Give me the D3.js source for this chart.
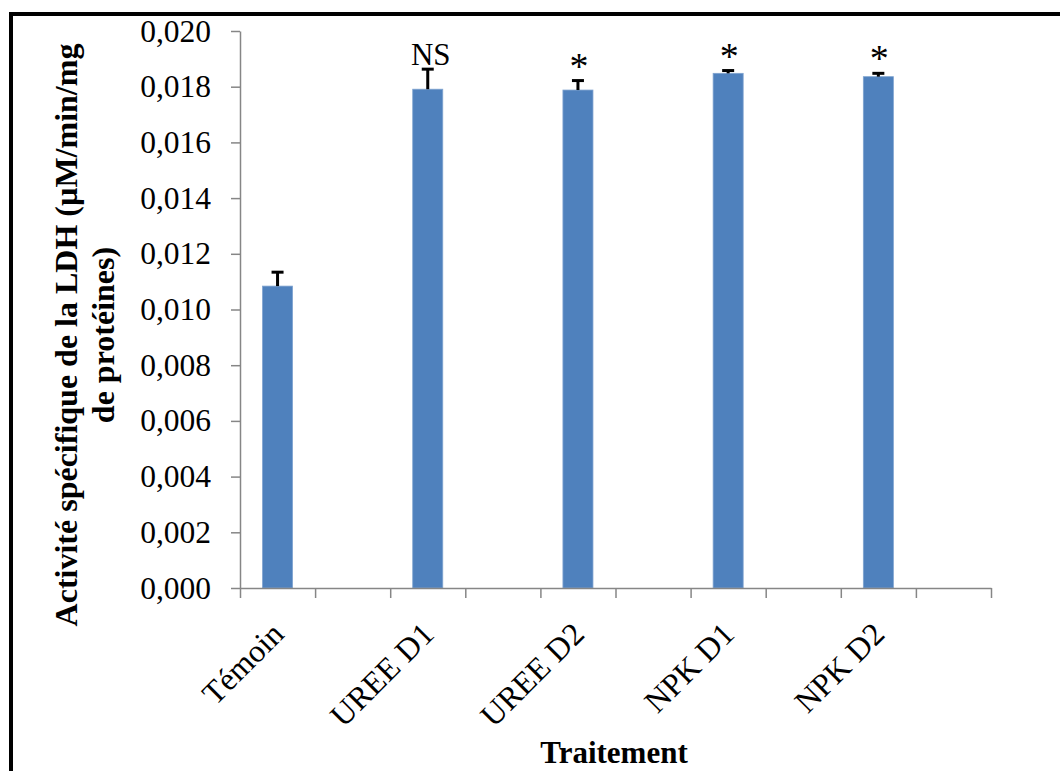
<!DOCTYPE html>
<html>
<head>
<meta charset="utf-8">
<script src="https://cdn.jsdelivr.net/npm/d3@7"></script>
<style>
  body { margin: 0; background: #fff; }
  svg { display: block; font-family: "Liberation Serif", "Times New Roman", serif; }
</style>
</head>
<body>
<svg width="1060" height="771"></svg>
<script>
// donnees
var categories = ["Témoin", "UREE D1", "UREE D2", "NPK D1", "NPK D2"];
var activite   = [0.01084, 0.01791, 0.01788, 0.01848, 0.01836];
var erreur     = [0.00050, 0.00072, 0.00034, 0.00010, 0.00012];
var signif     = ["", "NS", "*", "*", "*"];
var yTicks     = [0, 0.002, 0.004, 0.006, 0.008, 0.010, 0.012, 0.014, 0.016, 0.018, 0.020];

var svg = d3.select("svg");

var axeGauche = 240, axeDroit = 991, axeHaut = 31, axeBas = 588,
    nbSlots = categories.length * 2;  // une case vide apres chaque barre

var x = d3.scaleLinear().domain([0, nbSlots]).range([axeGauche, axeDroit]);
var y = d3.scaleLinear().domain([0, 0.020]).range([axeBas, axeHaut]);

var fr = d3.formatLocale({decimal: ",", thousands: " ", grouping: [3], currency: ["", ""]});
var fmt = fr.format(".3f");

// cadre (haut et gauche seulement visibles)
svg.append("rect")
    .attr("x", 11).attr("y", 14)
    .attr("width", 1200).attr("height", 900)
    .attr("fill", "none").attr("stroke", "#000").attr("stroke-width", 4);

// barres
function centre(i) { return x(2 * i + 0.5); }
var barW = x(0.4) - x(0);

svg.selectAll("rect.barre")
    .data(activite)
    .enter().append("rect")
    .attr("class", "barre")
    .attr("x", function(d, i) { return centre(i) - barW / 2; })
    .attr("y", function(d) { return y(d); })
    .attr("width", barW)
    .attr("height", function(d) { return y(0) - y(d); })
    .attr("fill", "#4F81BD")
    .attr("stroke", "#7FA3D0")
    .attr("stroke-width", 0.8);

// barres d'erreur (partie haute)
var err = svg.append("g").attr("stroke", "#000").attr("stroke-width", 3);
activite.forEach(function(d, i) {
    var cx = centre(i);
    err.append("line")
        .attr("x1", cx).attr("x2", cx)
        .attr("y1", y(d)).attr("y2", y(d + erreur[i]));
    err.append("line")
        .attr("x1", cx - 6).attr("x2", cx + 6)
        .attr("y1", y(d + erreur[i])).attr("y2", y(d + erreur[i]));
});

// annotations de significativite
svg.selectAll("text.sig")
    .data(signif)
    .enter().append("text")
    .attr("class", "sig")
    .attr("x", function(d, i) { return centre(i) + (d === "NS" ? 3 : 1); })
    .attr("y", function(d, i) { return y(activite[i] + erreur[i]) - (d === "NS" ? 4 : 2); })
    .attr("text-anchor", "middle")
    .attr("font-size", function(d) { return d === "NS" ? 31 : 38; })
    .text(function(d) { return d; });

// axe Y
var axeY = svg.append("g")
    .attr("transform", "translate(" + axeGauche + ",0)")
    .call(d3.axisLeft(y).tickValues(yTicks).tickFormat(fmt).tickSize(9).tickPadding(20).tickSizeOuter(0));
axeY.selectAll("line, path").attr("stroke", "#868686").attr("stroke-width", 1.5);
axeY.selectAll("text").attr("font-size", 31.5).attr("fill", "#000")
    .attr("font-family", "'Liberation Serif', 'Times New Roman', serif");

// axe X
var axeX = svg.append("g")
    .attr("transform", "translate(0," + axeBas + ")")
    .call(d3.axisBottom(x).tickValues(d3.range(nbSlots + 1)).tickFormat("").tickSize(10).tickSizeOuter(0));
axeX.selectAll("line, path").attr("stroke", "#868686").attr("stroke-width", 1.5);

// etiquettes des categories
svg.selectAll("text.cat")
    .data(categories)
    .enter().append("text")
    .attr("class", "cat")
    .attr("transform", function(d, i) {
        return "translate(" + (centre(i) + 8) + "," + (axeBas + 48) + ") rotate(-45)";
    })
    .attr("text-anchor", "end")
    .attr("font-size", 32)
    .text(function(d) { return d; });

// titres
svg.append("text")
    .attr("x", 614).attr("y", 763)
    .attr("text-anchor", "middle")
    .attr("font-size", 31).attr("font-weight", "bold")
    .text("Traitement");

var titreY = svg.append("text")
    .attr("transform", "translate(0,335) rotate(-90)")
    .attr("text-anchor", "middle")
    .attr("font-size", 32).attr("font-weight", "bold");
titreY.append("tspan").attr("x", 0).attr("y", 77).text("Activité spécifique de la LDH (µM/min/mg");
titreY.append("tspan").attr("x", 0).attr("y", 114).text("de protéines)");
</script>
</body>
</html>
